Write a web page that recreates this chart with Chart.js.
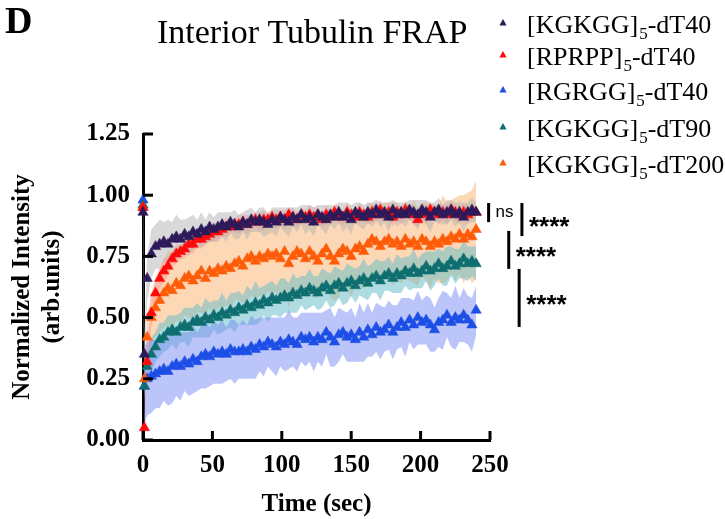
<!DOCTYPE html>
<html><head><meta charset="utf-8">
<script src="https://cdn.jsdelivr.net/npm/chart.js@4/dist/chart.umd.min.js"></script>
<style>html,body{margin:0;padding:0;background:#fff;}#wrap{width:725px;height:519px;}</style>
</head><body><div id="wrap"><canvas id="c" width="725" height="519"></canvas></div>
<script>
const times = [0,1,3,6,9,12,15,18,21,24, 27,30,33,36,39,42,45,48,51,54, 57,60,63,66,69,72,75,78,81,84, 87,90,93,96,99,102,105,108,111,114, 117,120,123,126,129,132,135,138,141,144, 147,150,153,156,159,162,165,168,171,174, 177,180,183,186,189,192,195,198,201,204, 207,210,213,216,219,222,225,228,231,234, 237,240];

// series order: KGKGG-dT40, RPRPP-dT40, RGRGG-dT40, KGKGG-dT90, KGKGG-dT200
const labelMain = ['[KGKGG]','[RPRPP]','[RGRGG]','[KGKGG]','[KGKGG]'];
const labelSub = ['5','5','5','5','5'];
const labelTail = ['-dT40','-dT40','-dT40','-dT90','-dT200'];

const kgkgg40 = [0.93,0.35,0.66,0.76,0.79,0.80,0.81,0.80,0.82,0.83,
 0.82,0.84,0.83,0.85,0.84,0.86,0.85,0.87,0.86,0.87,
 0.88,0.87,0.89,0.88,0.87,0.89,0.88,0.90,0.89,0.90,
 0.89,0.88,0.90,0.89,0.91,0.90,0.89,0.91,0.90,0.92,
 0.90,0.91,0.89,0.92,0.91,0.90,0.92,0.91,0.93,0.91,
 0.92,0.90,0.93,0.92,0.91,0.93,0.92,0.94,0.92,0.93,
 0.91,0.94,0.92,0.93,0.92,0.94,0.93,0.92,0.94,0.93,
 0.91,0.93,0.94,0.92,0.93,0.94,0.92,0.93,0.91,0.93,
 0.94,0.93];
const kgkgg40Sd = [0.02,0.06,0.09,0.10,0.09,0.10,0.08,0.10,0.07,0.09,
 0.08,0.06,0.08,0.07,0.06,0.07,0.05,0.06,0.05,0.06,
 0.05,0.06,0.04,0.06,0.05,0.04,0.06,0.05,0.04,0.05,
 0.06,0.04,0.05,0.06,0.04,0.05,0.06,0.04,0.05,0.04,
 0.06,0.05,0.06,0.04,0.05,0.06,0.04,0.05,0.04,0.06,
 0.05,0.06,0.04,0.05,0.05,0.04,0.05,0.04,0.05,0.04,
 0.06,0.04,0.05,0.04,0.05,0.04,0.05,0.06,0.04,0.05,
 0.06,0.04,0.05,0.04,0.05,0.04,0.05,0.04,0.06,0.04,
 0.05,0.04];

const rprpp40 = [0.95,0.05,0.32,0.52,0.60,0.66,0.69,0.71,0.74,0.76,
 0.77,0.78,0.80,0.80,0.82,0.82,0.83,0.84,0.85,0.85,
 0.86,0.87,0.87,0.88,0.88,0.89,0.88,0.89,0.90,0.89,
 0.90,0.90,0.91,0.90,0.91,0.90,0.92,0.91,0.90,0.92,
 0.91,0.92,0.91,0.92,0.90,0.92,0.91,0.93,0.92,0.91,
 0.93,0.92,0.91,0.93,0.92,0.91,0.93,0.92,0.94,0.92,
 0.93,0.91,0.93,0.92,0.94,0.93,0.92,0.90,0.93,0.92,
 0.94,0.93,0.92,0.93,0.92,0.94,0.93,0.92,0.93,0.92,
 0.93,0.93];
const rprpp40Sd = [0.02,0.03,0.05,0.06,0.05,0.04,0.05,0.04,0.03,0.04,
 0.03,0.04,0.03,0.04,0.03,0.04,0.03,0.03,0.04,0.03,
 0.03,0.04,0.03,0.03,0.04,0.03,0.04,0.03,0.03,0.04,
 0.04,0.03,0.03,0.04,0.03,0.04,0.03,0.04,0.03,0.03,
 0.03,0.04,0.04,0.03,0.03,0.04,0.03,0.03,0.04,0.03,
 0.04,0.03,0.03,0.04,0.03,0.03,0.04,0.03,0.04,0.03,
 0.03,0.04,0.03,0.04,0.03,0.03,0.04,0.03,0.03,0.04,
 0.03,0.03,0.04,0.03,0.04,0.03,0.03,0.04,0.03,0.04,
 0.03,0.03];

const rgrgg40 = [0.98,0.22,0.25,0.26,0.27,0.28,0.29,0.28,0.30,0.31,
 0.30,0.32,0.31,0.33,0.32,0.34,0.35,0.34,0.36,0.35,
 0.36,0.35,0.37,0.36,0.36,0.37,0.36,0.38,0.37,0.39,
 0.38,0.40,0.39,0.38,0.40,0.39,0.41,0.40,0.39,0.42,
 0.41,0.42,0.40,0.42,0.41,0.44,0.42,0.40,0.43,0.44,
 0.42,0.43,0.41,0.44,0.42,0.45,0.43,0.46,0.44,0.45,
 0.47,0.44,0.46,0.48,0.46,0.49,0.47,0.50,0.48,0.49,
 0.47,0.45,0.48,0.49,0.51,0.48,0.50,0.49,0.51,0.49,
 0.47,0.53];
const rgrgg40Sd = [0.02,0.16,0.15,0.15,0.14,0.15,0.13,0.14,0.15,0.13,
 0.14,0.12,0.13,0.14,0.12,0.13,0.14,0.12,0.13,0.12,
 0.13,0.11,0.12,0.13,0.11,0.12,0.11,0.13,0.12,0.11,
 0.12,0.10,0.11,0.12,0.10,0.11,0.12,0.10,0.11,0.10,
 0.11,0.10,0.12,0.10,0.11,0.09,0.12,0.10,0.11,0.09,
 0.10,0.11,0.09,0.12,0.10,0.11,0.09,0.10,0.11,0.09,
 0.10,0.11,0.09,0.10,0.12,0.09,0.10,0.11,0.09,0.10,
 0.11,0.09,0.10,0.12,0.09,0.10,0.13,0.09,0.11,0.10,
 0.11,0.10];

const kgkgg90 = [0.96,0.22,0.30,0.35,0.38,0.41,0.42,0.44,0.45,0.44,
 0.46,0.47,0.46,0.48,0.49,0.48,0.50,0.49,0.51,0.50,
 0.52,0.51,0.53,0.52,0.54,0.53,0.55,0.54,0.56,0.55,
 0.57,0.56,0.58,0.57,0.58,0.59,0.58,0.60,0.59,0.61,
 0.60,0.62,0.61,0.60,0.62,0.63,0.61,0.63,0.64,0.62,
 0.64,0.65,0.63,0.65,0.66,0.64,0.66,0.67,0.65,0.67,
 0.68,0.66,0.68,0.67,0.69,0.68,0.70,0.68,0.69,0.71,
 0.69,0.70,0.72,0.70,0.71,0.73,0.71,0.72,0.74,0.72,
 0.73,0.72];
const kgkgg90Sd = [0.02,0.04,0.06,0.07,0.06,0.07,0.06,0.07,0.06,0.07,
 0.06,0.07,0.08,0.06,0.07,0.06,0.08,0.07,0.06,0.07,
 0.08,0.06,0.07,0.08,0.07,0.06,0.08,0.07,0.09,0.07,
 0.06,0.08,0.07,0.06,0.08,0.07,0.06,0.08,0.07,0.06,
 0.07,0.08,0.06,0.07,0.08,0.06,0.07,0.08,0.06,0.07,
 0.08,0.06,0.07,0.06,0.08,0.07,0.06,0.07,0.08,0.06,
 0.07,0.06,0.08,0.07,0.06,0.07,0.08,0.06,0.07,0.06,
 0.08,0.07,0.06,0.07,0.08,0.06,0.07,0.06,0.08,0.07,
 0.06,0.07];

const kgkgg200 = [0.95,0.25,0.42,0.50,0.54,0.57,0.60,0.62,0.61,0.64,
 0.63,0.66,0.67,0.65,0.67,0.69,0.66,0.69,0.68,0.70,
 0.69,0.71,0.70,0.72,0.73,0.71,0.74,0.75,0.73,0.75,
 0.74,0.76,0.75,0.76,0.74,0.77,0.72,0.75,0.77,0.76,
 0.74,0.77,0.75,0.73,0.76,0.78,0.75,0.73,0.76,0.78,
 0.77,0.75,0.78,0.79,0.77,0.80,0.82,0.81,0.79,0.81,
 0.82,0.80,0.81,0.79,0.82,0.80,0.81,0.79,0.82,0.81,
 0.79,0.81,0.80,0.82,0.81,0.83,0.82,0.84,0.82,0.84,
 0.83,0.86];
const kgkgg200Sd = [0.03,0.05,0.08,0.10,0.12,0.13,0.14,0.15,0.16,0.15,
 0.16,0.15,0.17,0.16,0.15,0.17,0.16,0.15,0.17,0.16,
 0.15,0.16,0.17,0.15,0.16,0.15,0.17,0.16,0.15,0.16,
 0.17,0.15,0.16,0.15,0.17,0.16,0.18,0.15,0.16,0.17,
 0.15,0.16,0.17,0.15,0.16,0.15,0.17,0.16,0.18,0.15,
 0.16,0.17,0.15,0.16,0.15,0.17,0.14,0.16,0.15,0.16,
 0.15,0.17,0.16,0.15,0.16,0.15,0.17,0.16,0.15,0.16,
 0.17,0.15,0.16,0.18,0.16,0.15,0.17,0.16,0.18,0.17,
 0.19,0.20];

const xTicks = [0,50,100,150,200,250];
const yTicks = [0,0.25,0.5,0.75,1.0,1.25];

// significance brackets (x in sec, y span in data units)
const bracketX = [249, 273, 263.5, 271];
const bracketTop = [0.968, 0.968, 0.854, 0.699];
const bracketBottom = [0.89, 0.833, 0.699, 0.462];
const bracketText = ['ns','****','****','****'];

const means = [kgkgg40, rprpp40, rgrgg40, kgkgg90, kgkgg200];
const sds = [kgkgg40Sd, rprpp40Sd, rgrgg40Sd, kgkgg90Sd, kgkgg200Sd];
const colors = ['#2c1a5a','#ff0a0a','#1d4fe6','#0e6e70','#ff5c0a'];
const bandColors = ['rgba(180,180,180,0.5)','rgba(255,140,140,0.4)','rgba(120,140,245,0.5)','rgba(95,185,198,0.5)','rgba(251,190,135,0.6)'];
const pointOrder = [1,2,5,4,3];

const datasets = [];
means.forEach((m,s)=>{
  datasets.push({type:'line', data: times.map((t,i)=>({x:t,y:m[i]+sds[s][i]})), borderWidth:0, pointRadius:0, fill:false, order:20, tension:0});
  datasets.push({type:'line', data: times.map((t,i)=>({x:t,y:m[i]-sds[s][i]})), borderWidth:0, pointRadius:0, fill:'-1', backgroundColor:bandColors[s], order:20, tension:0});
});
means.forEach((m,s)=>{
  datasets.push({type:'line', label: labelMain[s]+labelSub[s]+labelTail[s], data: times.map((t,i)=>({x:t,y:m[i]})), showLine:false,
    pointStyle:'triangle', pointRadius:6, pointBorderWidth:0.5, pointBackgroundColor:colors[s], pointBorderColor:colors[s], order:pointOrder[s], clip:false});
});

const serif = "'Liberation Serif','Times New Roman',serif";
const sans = "'Liberation Sans',Arial,sans-serif";

const overlay = {
  id:'overlay',
  afterDraw(chart){
    const ctx = chart.ctx; const ca = chart.chartArea;
    const xs = chart.scales.x, ys = chart.scales.y;
    ctx.save();
    ctx.strokeStyle = '#000'; ctx.lineWidth = 3; ctx.lineCap='butt';
    yTicks.forEach(v=>{const y=ys.getPixelForValue(v); ctx.beginPath(); ctx.moveTo(ca.left,y); ctx.lineTo(ca.left+10,y); ctx.stroke();});
    xTicks.forEach(v=>{const x=xs.getPixelForValue(v); ctx.beginPath(); ctx.moveTo(x,ca.bottom); ctx.lineTo(x,ca.bottom-9); ctx.stroke();});
    // brackets
    bracketX.forEach((bx,i)=>{
      const x = xs.getPixelForValue(bx), y0 = ys.getPixelForValue(bracketTop[i]), y1 = ys.getPixelForValue(bracketBottom[i]);
      ctx.beginPath(); ctx.moveTo(x,y0); ctx.lineTo(x,y1); ctx.stroke();
      const ym = (y0+y1)/2;
      ctx.fillStyle='#000'; ctx.textAlign='left';
      if (bracketText[i]==='ns'){ ctx.font = "17px "+sans; ctx.textBaseline='middle'; ctx.fillText('ns', x+7, ym); }
      else { ctx.font = "bold 26px "+sans; ctx.textBaseline='alphabetic'; ctx.fillText(bracketText[i], x+7, ym+15); }
    });
    // title and panel letter
    ctx.textBaseline='alphabetic'; ctx.textAlign='left'; ctx.fillStyle='#000';
    ctx.font = "bold 38px "+serif; ctx.fillText('D', 5, 33);
    ctx.font = "34px "+serif; ctx.fillText('Interior Tubulin FRAP', 157, 43);
    // legend
    const rowY = [23,55,90,127,163];
    labelMain.forEach((lab,i)=>{
      const y = rowY[i], mx = 503;
      ctx.fillStyle = colors[i];
      ctx.beginPath(); ctx.moveTo(mx, y-4); ctx.lineTo(mx+3.6, y+2.5); ctx.lineTo(mx-3.6, y+2.5); ctx.closePath(); ctx.fill();
      ctx.fillStyle = '#000';
      let x = 527;
      ctx.font = "26px "+serif; ctx.fillText(lab, x, y+10); x += ctx.measureText(lab).width;
      ctx.font = "17px "+serif; ctx.fillText(labelSub[i], x+1, y+16); x += ctx.measureText(labelSub[i]).width + 1;
      ctx.font = "26px "+serif; ctx.fillText(labelTail[i], x, y+10);
    });
    ctx.restore();
  }
};

new Chart(document.getElementById('c'), {
  type:'line',
  data:{datasets},
  options:{
    responsive:false, animation:false, events:[],
    layout:{padding:{top:134,right:235,bottom:0,left:0}},
    plugins:{legend:{display:false}, tooltip:{enabled:false}, title:{display:false}},
    scales:{
      x:{type:'linear', min:0, max:250,
        afterFit(s){ s.height = 79; },
        grid:{display:false, drawTicks:false},
        border:{display:true, color:'#000', width:3},
        ticks:{stepSize:50, padding:11, color:'#000', font:{family:serif, size:25, weight:'bold'}, maxRotation:0},
        title:{display:true, text:'Time (sec)', color:'#000', font:{family:serif, size:25, weight:'bold', lineHeight:1.0}, padding:{top:0,bottom:2}}
      },
      y:{min:0, max:1.25,
        afterFit(s){ s.width = 143; },
        grid:{display:false, drawTicks:false},
        border:{display:true, color:'#000', width:3},
        ticks:{stepSize:0.25, padding:13, color:'#000', font:{family:serif, size:25, weight:'bold'}, callback:v=>v.toFixed(2)},
        title:{display:true, text:['Normalized Intensity','(arb.units)'], color:'#000', font:{family:serif, size:25, weight:'bold', lineHeight:1.2}, padding:{top:8,bottom:0}}
      }
    }
  },
  plugins:[overlay]
});
</script></body></html>
